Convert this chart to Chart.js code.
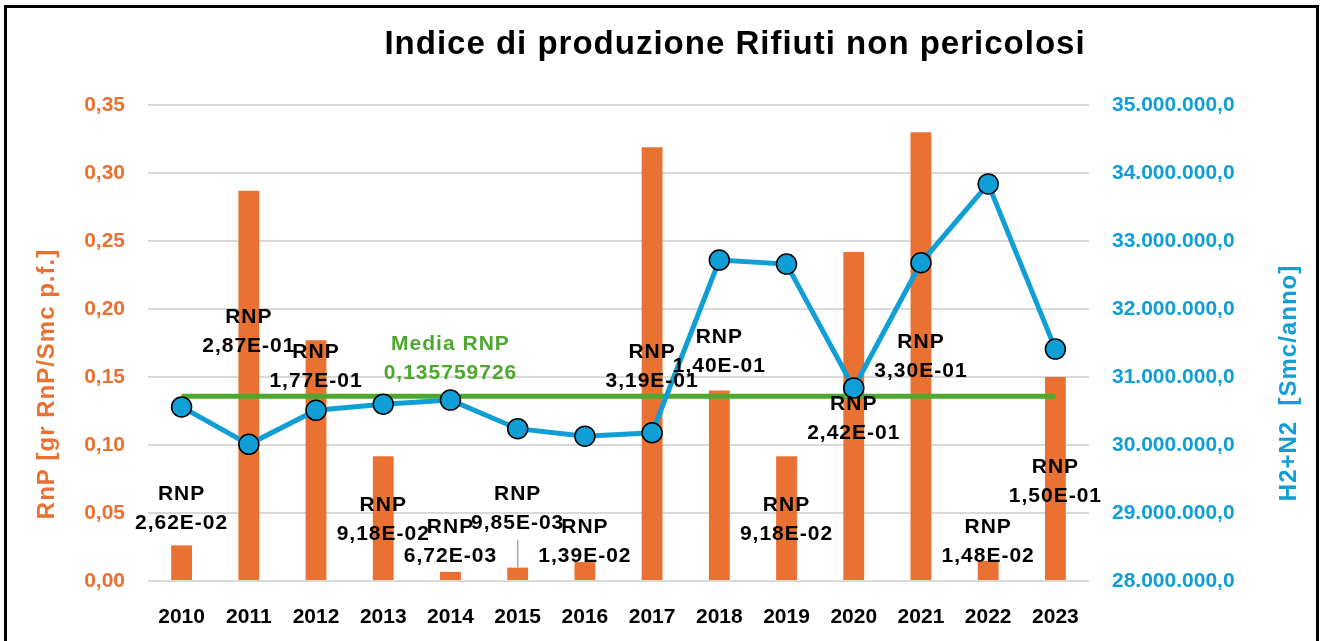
<!DOCTYPE html>
<html>
<head>
<meta charset="utf-8">
<script src="https://cdn.jsdelivr.net/npm/chart.js@4"></script>
<style>
  body { margin: 0; background: #fff; }
  #cornice { position: absolute; left: 4px; top: 5px; width: 1309px; height: 700px; border: 3px solid #000; pointer-events: none; }
</style>
</head>
<body>
<canvas id="grafico" width="1325" height="641"></canvas>
<div id="cornice"></div>
<script>
const anni = ['2010', '2011', '2012', '2013', '2014', '2015', '2016', '2017', '2018', '2019', '2020', '2021', '2022', '2023'];
const rnp = [0.0262, 0.287, 0.177, 0.0918, 0.00672, 0.00985, 0.0139, 0.319, 0.140, 0.0918, 0.242, 0.330, 0.0148, 0.150];
const h2n2 = [30560000, 30010000, 30510000, 30600000, 30660000, 30240000, 30130000, 30180000, 32720000, 32660000, 30840000, 32680000, 33840000, 31410000];
const mediaRnp = 0.135759726;
const assePrimario = { min: 0, max: 0.35, passo: 0.05 };
const asseSecondario = { min: 28000000, max: 35000000, passo: 1000000 };

// dove stanno le etichette RNP (in unità dell'asse sinistro), come spostate a mano in Excel
const posEtichette = [0.0537, 0.184, 0.158, 0.0456, 0.0294, 0.0537, 0.0294, 0.158, 0.169, 0.0456, 0.120, 0.165, 0.0294, 0.0735];
const conLinea = [false, false, false, false, false, true, false, false, false, false, false, false, false, false];
const posMedia = { indice: 4, valore: 0.164 };

const ARANCIO = '#E97132';
const BLU = '#0F9ED5';
const VERDE = '#4EA72E';
const FONT = '"Liberation Sans", Arial, sans-serif';

function formatoEsp(v) {
    const [m, e] = v.toExponential(2).split('e');
    const n = parseInt(e, 10);
    const exp = (n < 0 ? '-' : '+') + String(Math.abs(n)).padStart(2, '0');
    return m.replace('.', ',') + 'E' + exp;
}

function formatoMigliaia(v) {
    const intero = Math.round(v).toString().replace(/\B(?=(\d{3})+(?!\d))/g, '.');
    return intero + ',0';
}

function testoRuotato(ctx, testo, x, y, colore) {
    ctx.save();
    ctx.textAlign = 'center';
    ctx.textBaseline = 'middle';
    ctx.font = 'bold 24px ' + FONT;
    ctx.letterSpacing = '1px';
    ctx.fillStyle = colore;
    ctx.translate(x, y);
    ctx.rotate(-Math.PI / 2);
    ctx.fillText(testo, 0, 0);
    ctx.restore();
}

const etichettePlugin = {
    id: 'etichette',
    afterDatasetsDraw(chart) {
        const ctx = chart.ctx;
        const x = chart.scales.x;
        const y = chart.scales.y;
        ctx.save();
        ctx.font = 'bold 21px ' + FONT;
        ctx.letterSpacing = '1px';
        ctx.textAlign = 'center';
        ctx.textBaseline = 'middle';
        rnp.forEach((v, i) => {
            const px = x.getPixelForValue(i);
            const py = y.getPixelForValue(posEtichette[i]);
            if (conLinea[i]) {
                ctx.strokeStyle = '#a6a6a6';
                ctx.lineWidth = 1.5;
                ctx.beginPath();
                ctx.moveTo(px, py + 32);
                ctx.lineTo(px, y.getPixelForValue(v));
                ctx.stroke();
            }
            ctx.fillStyle = '#000';
            ctx.fillText('RNP', px, py - 14);
            ctx.fillText(formatoEsp(v), px, py + 15);
        });
        // etichetta della media
        const mx = x.getPixelForValue(posMedia.indice);
        const my = y.getPixelForValue(posMedia.valore);
        ctx.fillStyle = VERDE;
        ctx.fillText('Media RNP', mx, my - 14);
        ctx.fillText(String(mediaRnp).replace('.', ','), mx, my + 15);
        ctx.restore();
    },
    afterDraw(chart) {
        const ctx = chart.ctx;
        ctx.save();
        ctx.textAlign = 'center';
        ctx.textBaseline = 'middle';
        ctx.fillStyle = '#000';
        ctx.font = 'bold 33px ' + FONT;
        ctx.letterSpacing = '1px';
        ctx.fillText('Indice di produzione Rifiuti non pericolosi', 735, 45);
        ctx.restore();

        testoRuotato(ctx, 'RnP [gr RnP/Smc p.f.]', 47, 384, ARANCIO);
        testoRuotato(ctx, 'H2+N2  [Smc/anno]', 1289, 383, BLU);
    }
};

new Chart(document.getElementById('grafico'), {
    type: 'bar',
    data: {
        labels: anni,
        datasets: [
            {
                type: 'line',
                label: 'H2+N2',
                data: h2n2,
                yAxisID: 'y1',
                borderColor: BLU,
                borderWidth: 5,
                pointRadius: 10,
                pointBackgroundColor: BLU,
                pointBorderColor: '#000',
                pointBorderWidth: 1.5,
                tension: 0,
                order: 1
            },
            {
                type: 'line',
                label: 'Media RNP',
                data: anni.map(() => mediaRnp),
                yAxisID: 'y',
                borderColor: VERDE,
                borderWidth: 5,
                pointRadius: 0,
                order: 2
            },
            {
                label: 'RNP',
                data: rnp,
                yAxisID: 'y',
                backgroundColor: ARANCIO,
                barPercentage: 0.31,
                categoryPercentage: 1,
                order: 3
            }
        ]
    },
    options: {
        responsive: false,
        animation: false,
        layout: { padding: { top: 105, left: 0, right: 0, bottom: 0 } },
        plugins: {
            legend: { display: false },
            tooltip: { enabled: false }
        },
        scales: {
            x: {
                grid: { display: false },
                border: { display: false },
                ticks: { color: '#000', font: { family: FONT, size: 21, weight: 'bold' }, padding: 16 },
                afterFit(scale) { scale.height = 60; }
            },
            y: {
                position: 'left',
                min: assePrimario.min,
                max: assePrimario.max,
                grid: { color: '#d9d9d9', lineWidth: 2, drawTicks: false },
                border: { display: false },
                ticks: {
                    stepSize: assePrimario.passo,
                    color: ARANCIO,
                    padding: 23,
                    font: { family: FONT, size: 21, weight: 'bold' },
                    callback: v => v.toFixed(2).replace('.', ',')
                },
                afterFit(scale) { scale.width = 148; }
            },
            y1: {
                position: 'right',
                min: asseSecondario.min,
                max: asseSecondario.max,
                grid: { display: false, drawTicks: false },
                border: { display: false },
                ticks: {
                    stepSize: asseSecondario.passo,
                    color: BLU,
                    padding: 23,
                    font: { family: FONT, size: 21, weight: 'bold' },
                    callback: v => formatoMigliaia(v)
                },
                afterFit(scale) { scale.width = 236; }
            }
        }
    },
    plugins: [etichettePlugin]
});
</script>
</body>
</html>
